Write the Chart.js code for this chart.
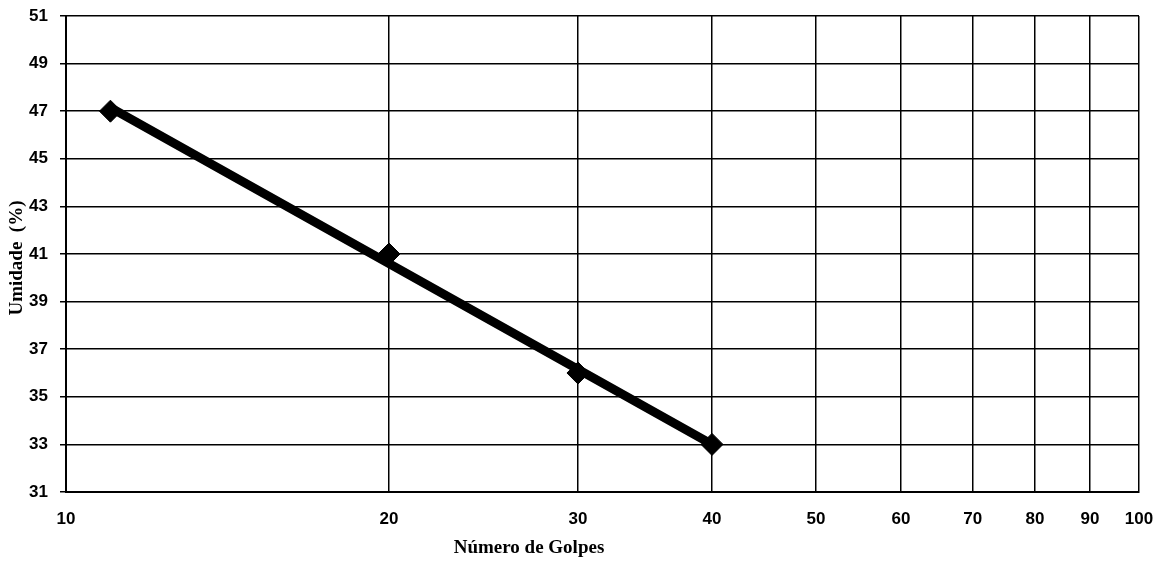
<!DOCTYPE html>
<html>
<head>
<meta charset="utf-8">
<script src="https://cdn.jsdelivr.net/npm/chart.js@4/dist/chart.umd.min.js"></script>
<style>
html,body{margin:0;padding:0;background:#fff;}
#wrap{width:1165px;height:564px;position:relative;}
</style>
</head>
<body>
<div id="wrap"><canvas id="c" width="1165" height="564"></canvas></div>
<script>
// ---- data ----
const golpes = [11, 20, 30, 40];
const umidade = [47, 41, 36, 33];
const trendGolpes = [11, 40];
const trendUmidade = [47.15, 33.0];
const xTickValues = [10, 20, 30, 40, 50, 60, 70, 80, 90, 100];
const yMin = 31, yMax = 51, yStep = 2;
const xTitle = 'Número de Golpes';
const yTitle = 'Umidade  (%)';

const pts = golpes.map((g, i) => ({x: g, y: umidade[i]}));
const trend = trendGolpes.map((g, i) => ({x: g, y: trendUmidade[i]}));

const axisTitles = {
  id: 'axisTitles',
  afterDraw(chart) {
    const ctx = chart.ctx;
    ctx.save();
    ctx.fillStyle = '#000';
    ctx.font = 'bold 19px "Liberation Serif", "Times New Roman", serif';
    ctx.textAlign = 'center';
    ctx.textBaseline = 'middle';
    ctx.fillText(xTitle, 529, 548);
    ctx.translate(17, 258);
    ctx.rotate(-Math.PI / 2);
    ctx.fillText(yTitle, 0, 0);
    ctx.restore();
  }
};

new Chart(document.getElementById('c'), {
  type: 'scatter',
  data: {
    datasets: [
      {
        label: 'Umidade',
        data: pts,
        showLine: false,
        pointStyle: 'rectRot',
        pointRadius: 11,
        pointHoverRadius: 11,
        backgroundColor: '#000',
        borderColor: '#000',
        borderWidth: 1
      },
      {
        label: 'Tendência',
        data: trend,
        showLine: true,
        borderColor: '#000',
        borderWidth: 9,
        pointRadius: 0,
        borderCapStyle: 'round',
        fill: false
      }
    ]
  },
  options: {
    responsive: false,
    animation: false,
    layout: {padding: {top: 16, right: 26, left: 0, bottom: 0}},
    plugins: {legend: {display: false}, tooltip: {enabled: false}, title: {display: false}},
    scales: {
      x: {
        type: 'logarithmic',
        min: 10,
        max: 100,
        afterBuildTicks(scale) { scale.ticks = xTickValues.map(v => ({value: v})); },
        afterFit(scale) { scale.height = 72; scale.paddingLeft = 0; scale.paddingRight = 0; },
        border: {color: '#000', width: 2},
        grid: {color: '#000', lineWidth: 1.5, tickLength: 5, tickColor: 'rgba(0,0,0,0)'},
        ticks: {
          color: '#000',
          padding: 12,
          maxRotation: 0,
          autoSkip: false,
          font: {family: '"Liberation Sans", Arial, sans-serif', size: 17, weight: 'bold'},
          callback: v => String(v)
        }
      },
      y: {
        min: yMin,
        max: yMax,
        afterFit(scale) { scale.width = 66; scale.paddingTop = 0; scale.paddingBottom = 0; },
        border: {color: '#000', width: 2},
        grid: {color: '#000', lineWidth: 1.5, tickLength: 6, tickColor: '#000'},
        ticks: {
          stepSize: yStep,
          color: '#000',
          padding: 12,
          font: {family: '"Liberation Sans", Arial, sans-serif', size: 17, weight: 'bold'}
        }
      }
    }
  },
  plugins: [axisTitles]
});
</script>
</body>
</html>
